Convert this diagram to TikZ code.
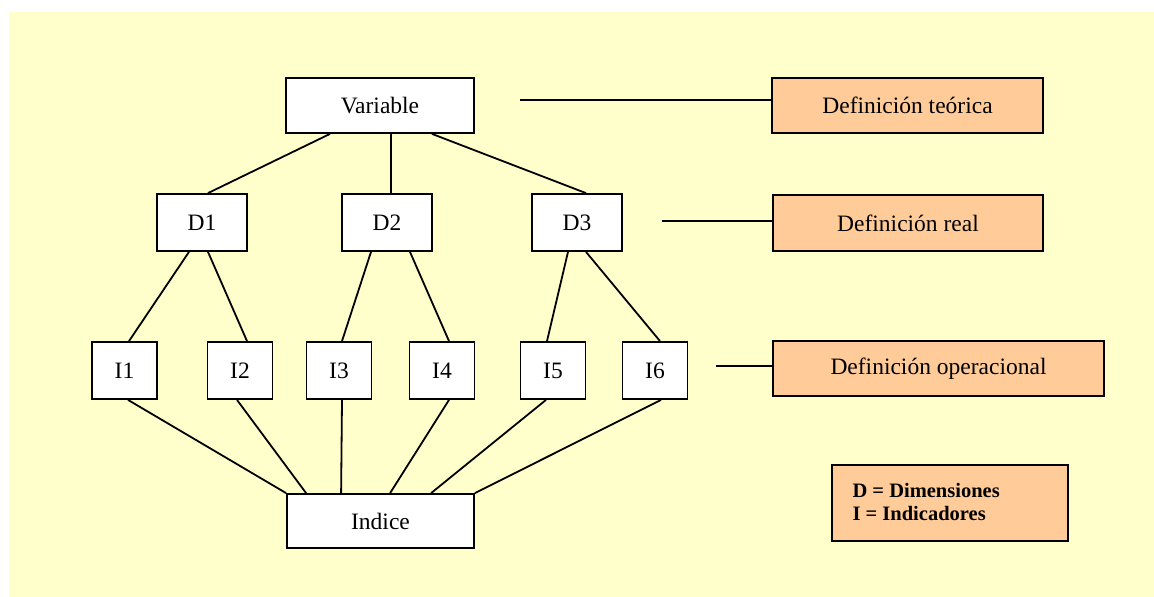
\documentclass[tikz,border=0pt]{standalone}
\usepackage{fontspec}
\setmainfont{Liberation Serif}
\usetikzlibrary{calc}
\definecolor{bgyellow}{HTML}{FFFFCC}
\definecolor{boxorange}{HTML}{FFCC99}
\begin{document}
\begin{tikzpicture}[x=1pt,y=-1pt,
  every node/.style={font=\fontsize{23.5}{27}\selectfont},
  wbox/.style={draw=black,line width=1.8pt,fill=white,inner sep=0pt,anchor=center},
  obox/.style={draw=black,line width=1.8pt,fill=boxorange,inner sep=0pt,anchor=center},
  conn/.style={draw=black,line width=1.8pt}]
\useasboundingbox (0,0) rectangle (1154,597);
\fill[bgyellow] (9,12) rectangle (1154,597);
% main nodes
\node[wbox,minimum width=188pt,minimum height=55pt] (Var) at (380,105.5) {Variable};
\node[wbox,minimum width=90pt,minimum height=57pt] (D1) at (202,222.5) {D1};
\node[wbox,minimum width=90pt,minimum height=57pt] (D2) at (387,222.5) {D2};
\node[wbox,minimum width=90pt,minimum height=57pt] (D3) at (577,222.5) {D3};
\node[wbox,minimum width=65pt,minimum height=57pt] (I1) at (124.5,370.5) {I1};
\node[wbox,minimum width=65pt,minimum height=57pt] (I2) at (240,370.5) {I2};
\node[wbox,minimum width=65pt,minimum height=57pt] (I3) at (339,370.5) {I3};
\node[wbox,minimum width=65pt,minimum height=57pt] (I4) at (442,370.5) {I4};
\node[wbox,minimum width=65pt,minimum height=57pt] (I5) at (553,370.5) {I5\vphantom{1}};
\node[wbox,minimum width=65pt,minimum height=57pt] (I6) at (655,370.5) {I6};
\node[wbox,minimum width=187pt,minimum height=54pt] (Ind) at (380.5,521) {Indice};
% right boxes
\node[obox,minimum width=271pt,minimum height=55pt] (DefT) at (907.5,105.5) {Definición teórica};
\node[obox,minimum width=270pt,minimum height=56pt] (DefR) at (908,223) {Definición real};
\node[obox,minimum width=331pt,minimum height=55pt] (DefO) at (938.5,368.5) {Definición operacional};
\node[obox,minimum width=236pt,minimum height=76pt] (Leg) at (950,503) {};
\node[anchor=west,align=left,font=\fontsize{20.5}{23.5}\selectfont\bfseries] (LegT) at (849,502) {D = Dimensiones\\I = Indicadores};
% side connectors
\coordinate (cT) at (520,100);
\coordinate (cR) at (662,221);
\coordinate (cO) at (716,366);
\draw[conn] (cT) -- (DefT.west |- cT);
\draw[conn] (cR) -- (DefR.west |- cR);
\draw[conn] (cO) -- (DefO.west |- cO);
% Variable to D
\draw[conn] ([xshift=-50pt]Var.south) -- ([xshift=6pt]D1.north);
\draw[conn] ([xshift=11pt]Var.south) -- ([xshift=4pt]D2.north);
\draw[conn] ([xshift=52pt]Var.south) -- ([xshift=9pt]D3.north);
% D to I
\draw[conn] ([xshift=-13pt]D1.south) -- ([xshift=4.5pt]I1.north);
\draw[conn] ([xshift=6pt]D1.south) -- ([xshift=7pt]I2.north);
\draw[conn] ([xshift=-16pt]D2.south) -- ([xshift=3pt]I3.north);
\draw[conn] ([xshift=23pt]D2.south) -- ([xshift=7pt]I4.north);
\draw[conn] ([xshift=-9pt]D3.south) -- ([xshift=-6pt]I5.north);
\draw[conn] ([xshift=9pt]D3.south) -- ([xshift=5pt]I6.north);
% I to Indice
\draw[conn] ([xshift=3.5pt]I1.south) -- (Ind.north west);
\draw[conn] ([xshift=-3pt]I2.south) -- ([xshift=20pt]Ind.north west);
\draw[conn] ([xshift=3pt]I3.south) -- ([xshift=55pt]Ind.north west);
\draw[conn] ([xshift=7pt]I4.south) -- ([xshift=104pt]Ind.north west);
\draw[conn] ([xshift=-7pt]I5.south) -- ([xshift=145pt]Ind.north west);
\draw[conn] ([xshift=6pt]I6.south) -- (Ind.north east);
\end{tikzpicture}
\end{document}
